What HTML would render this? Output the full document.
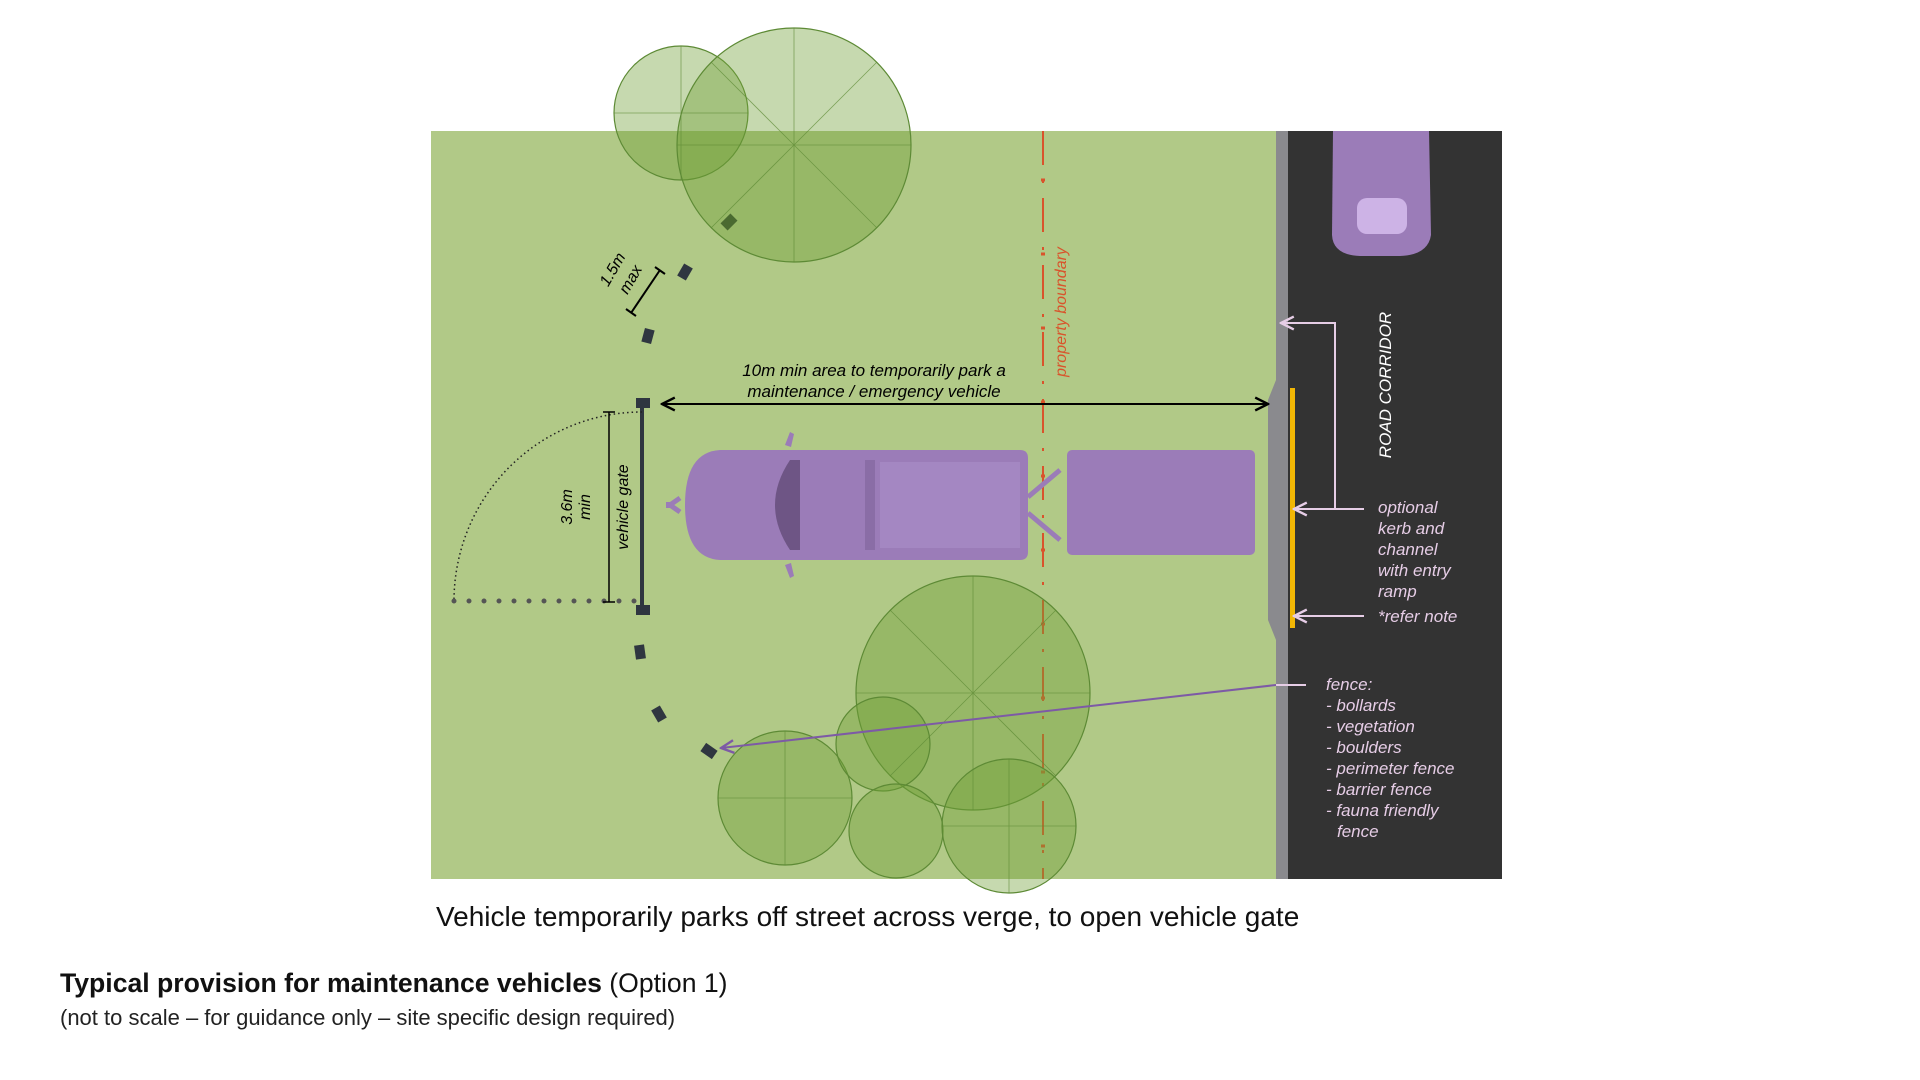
<!DOCTYPE html>
<html><head><meta charset="utf-8"><style>
html,body{margin:0;padding:0;background:#fff;width:1920px;height:1080px;overflow:hidden}
svg{display:block}
text{font-family:"Liberation Sans",Arial,sans-serif}
</style></head><body>
<svg width="1920" height="1080" viewBox="0 0 1920 1080">
<defs>
<marker id="ab" viewBox="0 0 10 10" refX="9" refY="5" markerWidth="8" markerHeight="8" orient="auto-start-reverse"><path d="M1,1 L9,5 L1,9" fill="none" stroke="#000" stroke-width="1.5"/></marker>
<marker id="ap" viewBox="0 0 10 10" refX="9" refY="5" markerWidth="8" markerHeight="8" orient="auto"><path d="M1,1 L9,5 L1,9" fill="none" stroke="#e6cde6" stroke-width="1.5"/></marker>
<marker id="av" viewBox="0 0 10 10" refX="9" refY="5" markerWidth="8" markerHeight="8" orient="auto"><path d="M1,1 L9,5 L1,9" fill="none" stroke="#7d5aa6" stroke-width="1.5"/></marker>
</defs>
<rect x="431" y="131" width="845" height="748" fill="#b1c987"/>
<rect x="1288" y="131" width="214" height="748" fill="#333333"/>
<path d="M1276,131 L1288,131 L1288,879 L1276,879 Z" fill="#8a8a8e"/>
<path d="M1276,380 L1268,400 L1268,620 L1276,640 Z" fill="#8a8a8e"/>
<rect x="1290" y="388" width="5" height="240" fill="#f2b705"/>
<path d="M1333,131 L1429,131 L1431,235 Q1428,255 1400,256 L1360,256 Q1333,255 1332,235 Z" fill="#9b7cb8"/>
<rect x="1357" y="198" width="50" height="36" rx="10" fill="#cdb3e6"/>
<line x1="1043" y1="131" x2="1043" y2="879" stroke="#d9532b" stroke-width="2" stroke-dasharray="34,15,3,15"/>
<line x1="1043" y1="131" x2="1043" y2="879" stroke="#d9532b" stroke-width="4" stroke-dasharray="0,40.5,3,30.5" stroke-dashoffset="-7"/>
<text transform="translate(1066,312) rotate(-90)" text-anchor="middle" font-size="16" font-style="italic" fill="#d9532b">property boundary</text>
<g fill="rgba(112,160,55,0.4)" stroke="#5d8a35" stroke-width="1.2">
<circle cx="681" cy="113" r="67"/>
<circle cx="794" cy="145" r="117"/>
<circle cx="973" cy="693" r="117"/>
<circle cx="785" cy="798" r="67"/>
<circle cx="883" cy="744" r="47"/>
<circle cx="896" cy="831" r="47"/>
<circle cx="1009" cy="826" r="67"/>
</g>
<g stroke="#5d8a35" stroke-width="0.8" opacity="0.7">
<path d="M794,145 L794,28 M794,145 L911,145 M794,145 L794,262 M794,145 L677,145 M794,145 L877,62 M794,145 L877,228 M794,145 L711,228 M794,145 L711,62"/>
<path d="M973,693 L973,576 M973,693 L1090,693 M973,693 L973,810 M973,693 L856,693 M973,693 L1056,610 M973,693 L1056,776 M973,693 L890,776 M973,693 L890,610"/>
<path d="M681,113 L681,46 M681,113 L748,113 M681,113 L681,180 M681,113 L614,113 M785,798 L785,731 M785,798 L852,798 M785,798 L785,865 M785,798 L718,798 M1009,826 L1009,759 M1009,826 L1076,826 M1009,826 L1009,893 M1009,826 L942,826"/>
</g>
<g fill="#2f3640">
<rect x="636" y="398" width="14" height="10"/>
<rect x="636" y="605" width="14" height="10"/>
<rect x="680" y="265" width="10" height="14" transform="rotate(30 685 272)"/>
<rect x="643" y="329" width="10" height="14" transform="rotate(15 648 336)"/>
<rect x="635" y="645" width="10" height="14" transform="rotate(-8 640 652)"/>
<rect x="654" y="707" width="10" height="14" transform="rotate(-30 659 714)"/>
<rect x="704" y="744" width="10" height="14" transform="rotate(-55 709 751)"/>
<rect x="724" y="215" width="10" height="14" transform="rotate(45 729 222)" fill="#4a6a30"/>
</g>
<line x1="642" y1="408" x2="642" y2="605" stroke="#2f3640" stroke-width="4"/>
<path d="M642,412 A188,189 0 0 0 454,601" fill="none" stroke="#222" stroke-width="1.5" stroke-dasharray="1.5,3"/>
<line x1="454" y1="601" x2="648" y2="601" stroke="#555" stroke-width="5" stroke-linecap="round" stroke-dasharray="0,15"/>
<line x1="609" y1="412" x2="609" y2="602" stroke="#000" stroke-width="1.5"/>
<line x1="603" y1="412" x2="615" y2="412" stroke="#000" stroke-width="1.5"/>
<line x1="603" y1="602" x2="615" y2="602" stroke="#000" stroke-width="1.5"/>
<text transform="translate(572,507) rotate(-90)" text-anchor="middle" font-size="16" font-style="italic">3.6m</text>
<text transform="translate(590,507) rotate(-90)" text-anchor="middle" font-size="16" font-style="italic">min</text>
<text transform="translate(628,507) rotate(-90)" text-anchor="middle" font-size="16" font-style="italic">vehicle gate</text>
<line x1="631" y1="313" x2="660" y2="270" stroke="#000" stroke-width="2"/>
<line x1="626" y1="309" x2="636" y2="316" stroke="#000" stroke-width="2"/>
<line x1="655" y1="267" x2="665" y2="274" stroke="#000" stroke-width="2"/>
<text transform="translate(617,272) rotate(-60)" text-anchor="middle" font-size="16" font-style="italic">1.5m</text>
<text transform="translate(635,282) rotate(-60)" text-anchor="middle" font-size="16" font-style="italic">max</text>
<line x1="662" y1="404" x2="1268" y2="404" stroke="#000" stroke-width="2" marker-start="url(#ab)" marker-end="url(#ab)"/>
<text x="874" y="376" text-anchor="middle" font-size="17" font-style="italic">10m min area to temporarily park a</text>
<text x="874" y="397" text-anchor="middle" font-size="17" font-style="italic">maintenance / emergency vehicle</text>
<g fill="#9b7cb8">
<path d="M720,450 L1020,450 Q1028,450 1028,458 L1028,552 Q1028,560 1020,560 L720,560 Q685,558 685,505 Q685,452 720,450 Z"/>
<path d="M785,445 L790,432 L794,434 L791,447 Z M785,565 L790,578 L794,576 L791,563 Z"/>
<rect x="1067" y="450" width="188" height="105" rx="5"/>
<path d="M1028,497 L1060,470 M1028,513 L1060,540" stroke="#9b7cb8" stroke-width="5"/>
<path d="M680,498 L670,505 L680,512" fill="none" stroke="#9b7cb8" stroke-width="5"/>
<rect x="666" y="502" width="8" height="6"/>
</g>
<path d="M790,460 Q760,505 790,550 L800,550 L800,460 Z" fill="#6e5585"/>
<rect x="865" y="460" width="10" height="90" fill="#8a6da6"/>
<rect x="880" y="462" width="140" height="86" fill="#a487c2"/>
<g stroke="#e6cde6" stroke-width="2" fill="none">
<path d="M1364,509 L1335,509 L1335,323 L1281,323" marker-end="url(#ap)"/>
<line x1="1335" y1="509" x2="1294" y2="509" marker-end="url(#ap)"/>
<line x1="1364" y1="616" x2="1294" y2="616" marker-end="url(#ap)"/>
<line x1="1306" y1="685" x2="1276" y2="685"/>
</g>
<line x1="1276" y1="685" x2="721" y2="748" stroke="#7d5aa6" stroke-width="2" marker-end="url(#av)"/>
<text transform="translate(1391,385) rotate(-90)" text-anchor="middle" font-size="17" font-style="italic" fill="#fff">ROAD CORRIDOR</text>
<g font-size="17" font-style="italic" fill="#e6cde6">
<text x="1378" y="513">optional</text>
<text x="1378" y="534">kerb and</text>
<text x="1378" y="555">channel</text>
<text x="1378" y="576">with entry</text>
<text x="1378" y="597">ramp</text>
<text x="1378" y="622">*refer note</text>
<text x="1326" y="690">fence:</text>
<text x="1326" y="711">- bollards</text>
<text x="1326" y="732">- vegetation</text>
<text x="1326" y="753">- boulders</text>
<text x="1326" y="774">- perimeter fence</text>
<text x="1326" y="795">- barrier fence</text>
<text x="1326" y="816">- fauna friendly</text>
<text x="1337" y="837">fence</text>
</g>
<text x="436" y="926" font-size="28" fill="#111">Vehicle temporarily parks off street across verge, to open vehicle gate</text>
<text x="60" y="992" font-size="26.6" fill="#111"><tspan font-weight="bold">Typical provision for maintenance vehicles</tspan> (Option 1)</text>
<text x="60" y="1025" font-size="22" fill="#222">(not to scale – for guidance only – site specific design required)</text>
</svg>
</body></html>
